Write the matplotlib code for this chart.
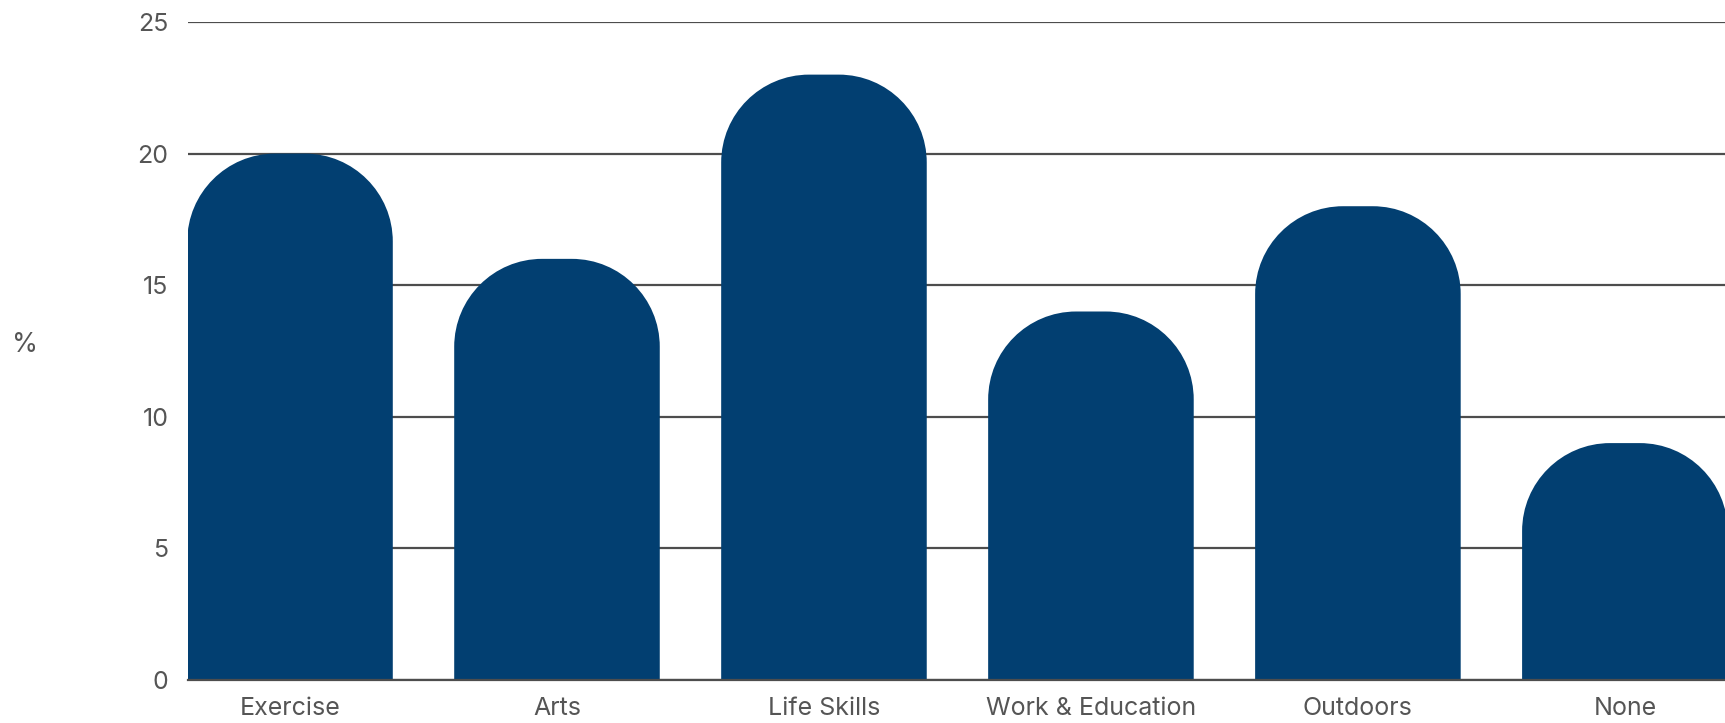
import matplotlib.pyplot as plt
from matplotlib.path import Path
from matplotlib.patches import PathPatch

# Share of respondents by activity type
categories = ['Exercise', 'Arts', 'Life Skills', 'Work & Education', 'Outdoors', 'None']
values = [20, 16, 23, 14, 18, 9]
y_ticks = [0, 5, 10, 15, 20, 25]

bar_color = '#023f71'
text_color = '#555555'
bar_width = 0.77
corner_px = 88  # radius of the rounded bar tops, in pixels
K = 0.5523  # cubic bezier constant for a quarter circle

plt.rcParams['font.family'] = ['Inter', 'DejaVu Sans']

fig = plt.figure(figsize=(17.25, 7.23), dpi=100)
ax = fig.add_axes([0.109, 0.0595, 0.891, 0.9101])
ax.set_xlim(-0.382, 5.375)
ax.set_ylim(0, 25)

# pixels per data unit along each axis, so the corners stay circular
fig.canvas.draw()
bbox = ax.get_window_extent()
px_x = bbox.width / (ax.get_xlim()[1] - ax.get_xlim()[0])
px_y = bbox.height / (ax.get_ylim()[1] - ax.get_ylim()[0])
rx = corner_px / px_x
ry = corner_px / px_y


def rounded_bar(x, height, width):
    left, right = x - width / 2, x + width / 2
    verts = [
        (left, 0),
        (left, height - ry),
        (left, height - ry + K * ry), (left + rx - K * rx, height), (left + rx, height),
        (right - rx, height),
        (right - rx + K * rx, height), (right, height - ry + K * ry), (right, height - ry),
        (right, 0),
        (left, 0),
    ]
    codes = [Path.MOVETO, Path.LINETO,
             Path.CURVE4, Path.CURVE4, Path.CURVE4,
             Path.LINETO,
             Path.CURVE4, Path.CURVE4, Path.CURVE4,
             Path.LINETO, Path.CLOSEPOLY]
    return Path(verts, codes)


for i, v in enumerate(values):
    ax.add_patch(PathPatch(rounded_bar(i, v, bar_width), facecolor=bar_color,
                           edgecolor='none', zorder=3))

ax.set_xticks(range(len(categories)))
ax.set_xticklabels(categories)
ax.set_yticks(y_ticks)
ax.yaxis.grid(True, color='#4d4d4d', linewidth=1.6)
ax.set_axisbelow(True)
ax.tick_params(length=0, labelsize=18, labelcolor=text_color)
ax.tick_params(axis='x', pad=12)
ax.tick_params(axis='y', pad=14)

for side in ['top', 'right', 'left']:
    ax.spines[side].set_visible(False)
ax.spines['bottom'].set_color('#4d4d4d')
ax.spines['bottom'].set_linewidth(1.6)
ax.spines['bottom'].set_zorder(4)

ax.set_ylabel('%', rotation=0, fontsize=19, color=text_color, labelpad=0)
ax.yaxis.set_label_coords(-0.106, 0.49)

fig.savefig('out.png', dpi=100)
